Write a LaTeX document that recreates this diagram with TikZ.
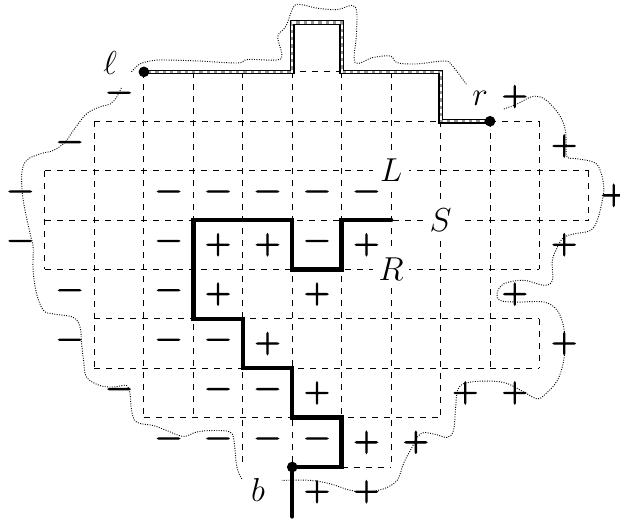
\documentclass[tikz,border=0pt]{standalone}
\usepackage{amsmath}
\usepackage{fontspec}
\newfontfamily\sgnfont[FakeBold=3]{lmroman10-regular.otf}

\tikzset{every picture/.style={line width=0.75pt}}
\tikzset{
  gridln/.style={dash pattern={on 4.5pt off 4.5pt}},
  wall/.style={line width=3.3pt, line cap=round},
  bdryout/.style={line width=3.4pt},
  bdryin/.style={line width=1.6pt, color={rgb, 255:red, 150; green, 150; blue, 150 }},
  bdrydash/.style={line width=1.6pt, white, dash pattern={on 3pt off 2.5pt}},
  contour/.style={line width=0.7pt, dash pattern={on 0.7pt off 1.1pt}},
  sgn/.style={inner sep=0pt, font=\Huge\sgnfont},
  lbl/.style={inner sep=0pt, font=\Huge},
  blbl/.style={lbl, fill=white, minimum size=0.95cm},
  endpt/.style={fill, circle, inner sep=0pt, minimum size=8pt}
}

\begin{document}
\begin{tikzpicture}[x=37.09pt,y=37.05pt,yscale=-1,xscale=1]
\useasboundingbox (-0.910,-0.455) rectangle (11.628,10.132);

%Straight Lines (lattice, rows)
\draw [gridln] (2,1) -- (8,1) ;
\draw [gridln] (1,2) -- (10,2) ;
\draw [gridln] (0,3) -- (11,3) ;
\draw [gridln] (0,4) -- (11,4) ;
\draw [gridln] (0,5) -- (10,5) ;
\draw [gridln] (1,6) -- (10,6) ;
\draw [gridln] (1,7) -- (10,7) ;
\draw [gridln] (2,8) -- (8,8) ;
\draw [gridln] (6,9) -- (7,9) ;
%Straight Lines (lattice, columns)
\draw [gridln] (0,3) -- (0,5) ;
\draw [gridln] (1,2) -- (1,7) ;
\draw [gridln] (2,1) -- (2,8) ;
\draw [gridln] (3,1) -- (3,8) ;
\draw [gridln] (4,1) -- (4,9) ;
\draw [gridln] (5,1) -- (5,9) ;
\draw [gridln] (6,1) -- (6,9) ;
\draw [gridln] (7,1) -- (7,9) ;
\draw [gridln] (8,2) -- (8,8) ;
\draw [gridln] (9,2) -- (9,7) ;
\draw [gridln] (10,2) -- (10,5) ;
\draw [gridln] (10,6) -- (10,7) ;
\draw [gridln] (11,3) -- (11,4) ;

%Curve Lines (dotted contour)
\draw [contour] plot [smooth, tension=0.6] coordinates {(1.75,1.0) (1.92,0.84) (2.19,0.77) (2.46,0.76) (3.1,0.78) (3.9,0.82) (4.1,0.75) (4.68,0.76) (4.79,0.66) (4.71,0.28) (4.87,0.08) (5.03,-0.32) (5.19,-0.36) (5.5,-0.29) (5.9,-0.26) (6.27,-0.32) (6.3,0.22) (6.27,0.81) (6.63,0.71) (6.99,0.68) (7.11,0.81) (7.51,0.84) (8.08,0.78) (8.24,0.88) (8.52,1.25)};
\draw [contour] plot [smooth, tension=0.6] coordinates {(9.28,1.75) (9.55,1.65) (9.82,1.51) (10.02,1.51) (10.22,1.65) (10.43,1.92) (10.53,2.22) (10.54,2.55) (10.56,2.73) (10.76,2.76) (11.1,2.83) (11.23,3.0) (11.3,3.33) (11.27,3.6) (11.17,4.0) (11.03,4.21) (10.7,4.28) (10.49,4.35) (10.36,4.55) (10.26,4.82) (10.26,5.22) (10.09,5.32) (9.68,5.22) (9.28,5.29) (9.14,5.49) (9.21,5.63) (9.55,5.66) (10.09,5.66) (10.36,5.83) (10.49,6.17) (10.5,6.5) (10.49,6.84) (10.36,7.25) (10.09,7.55) (9.95,7.62) (9.75,7.52) (9.35,7.31) (9.0,7.26) (8.6,7.28) (8.4,7.35) (8.33,7.52) (8.3,7.85) (8.26,8.26) (8.13,8.4) (7.86,8.33) (7.59,8.33) (7.39,8.66) (7.25,8.93) (7.12,9.27) (6.85,9.44) (6.5,9.5) (6.17,9.47) (5.77,9.34) (5.36,9.27) (4.79,9.27)};
\draw [contour] plot [smooth, tension=0.6] coordinates {(3.98,9.24) (3.88,9.0) (3.82,8.46) (3.74,8.29) (3.41,8.26) (3.07,8.29) (2.8,8.38) (2.46,8.26) (2.19,8.16) (1.85,8.09) (1.75,7.85) (1.72,7.52) (1.65,7.35) (1.38,7.38) (1.11,7.35) (0.84,7.18) (0.78,6.84) (0.74,6.5) (0.71,6.17) (0.57,5.97) (0.17,5.9) (-0.03,5.83) (-0.17,5.49) (-0.24,5.02) (-0.24,4.55) (-0.3,4.28) (-0.44,3.6) (-0.47,3.06) (-0.37,2.79) (-0.1,2.66) (0.17,2.59) (0.41,2.42) (0.57,2.19) (0.84,1.85) (1.11,1.71) (1.32,1.65) (1.45,1.51) (1.55,1.31)};

% Text Node (boxed labels)
\node [blbl] (L) at (7,3) {$L$};
\node [blbl] (S) at (8,4) {$S$};
\node [blbl] (R) at (7,5) {$R$};

% end points
\coordinate (lpt) at (2,1);
\coordinate (rpt) at (9,2);
\coordinate (bpt) at (5,9);
\coordinate (bend) at (5,10);
\coordinate (send) at (7,4);

%Straight Lines (interface)
\draw [wall] (bend) -- (bpt) -- (6,9) -- (6,8) -- (5,8) -- (5,7) -- (4,7) -- (4,6) -- (3,6) -- (3,4) -- (5,4) -- (5,5) -- (6,5) -- (6,4) -- (send) ;
%Straight Lines (boundary arc)
\draw [bdryout] (lpt) -- (5,1) -- (5,0) -- (6,0) -- (6,1) -- (8,1) -- (8,2) -- (rpt) ;
\draw [bdryin] (lpt) -- (5,1) -- (5,0) -- (6,0) -- (6,1) -- (8,1) -- (8,2) -- (rpt) ;
\draw [bdrydash] (lpt) -- (5,1) -- (5,0) -- (6,0) -- (6,1) -- (8,1) -- (8,2) -- (rpt) ;

\node [endpt] (ldot) at (lpt) {};
\node [endpt] (rdot) at (rpt) {};
\node [endpt] (bdot) at (bpt) {};

% Text Node
\node [lbl] (ell) at (1.32,0.83) {$\ell$};
% Text Node
\node [lbl] (r) at (8.8,1.54) {$r$};
% Text Node
\node [lbl] (b) at (4.31,9.47) {$b$};

% Text Node (minus signs)
\node [sgn] (m1) at (1.5,1.5) {−};
\node [sgn] (m2) at (0.5,2.5) {−};
\node [sgn] (m3) at (-0.5,3.5) {−};
\node [sgn] (m4) at (2.5,3.5) {−};
\node [sgn] (m5) at (3.5,3.5) {−};
\node [sgn] (m6) at (4.5,3.5) {−};
\node [sgn] (m7) at (5.5,3.5) {−};
\node [sgn] (m8) at (6.5,3.5) {−};
\node [sgn] (m9) at (-0.5,4.5) {−};
\node [sgn] (m10) at (2.5,4.5) {−};
\node [sgn] (m11) at (5.5,4.5) {−};
\node [sgn] (m12) at (0.5,5.5) {−};
\node [sgn] (m13) at (2.5,5.5) {−};
\node [sgn] (m14) at (0.5,6.5) {−};
\node [sgn] (m15) at (2.5,6.5) {−};
\node [sgn] (m16) at (3.5,6.5) {−};
\node [sgn] (m17) at (1.5,7.5) {−};
\node [sgn] (m18) at (3.5,7.5) {−};
\node [sgn] (m19) at (4.5,7.5) {−};
\node [sgn] (m20) at (2.5,8.5) {−};
\node [sgn] (m21) at (3.5,8.5) {−};
\node [sgn] (m22) at (4.5,8.5) {−};
\node [sgn] (m23) at (5.5,8.5) {−};
% Text Node (plus signs)
\node [sgn] (p1) at (9.5,1.5) {+};
\node [sgn] (p2) at (10.5,2.5) {+};
\node [sgn] (p3) at (11.5,3.5) {+};
\node [sgn] (p4) at (3.5,4.5) {+};
\node [sgn] (p5) at (4.5,4.5) {+};
\node [sgn] (p6) at (6.5,4.5) {+};
\node [sgn] (p7) at (10.5,4.5) {+};
\node [sgn] (p8) at (3.5,5.5) {+};
\node [sgn] (p9) at (5.5,5.5) {+};
\node [sgn] (p10) at (9.5,5.5) {+};
\node [sgn] (p11) at (4.5,6.5) {+};
\node [sgn] (p12) at (10.5,6.5) {+};
\node [sgn] (p13) at (5.5,7.5) {+};
\node [sgn] (p14) at (8.5,7.5) {+};
\node [sgn] (p15) at (9.5,7.5) {+};
\node [sgn] (p16) at (6.5,8.5) {+};
\node [sgn] (p17) at (7.5,8.5) {+};
\node [sgn] (p18) at (5.5,9.5) {+};
\node [sgn] (p19) at (6.5,9.5) {+};

\end{tikzpicture}
\end{document}
